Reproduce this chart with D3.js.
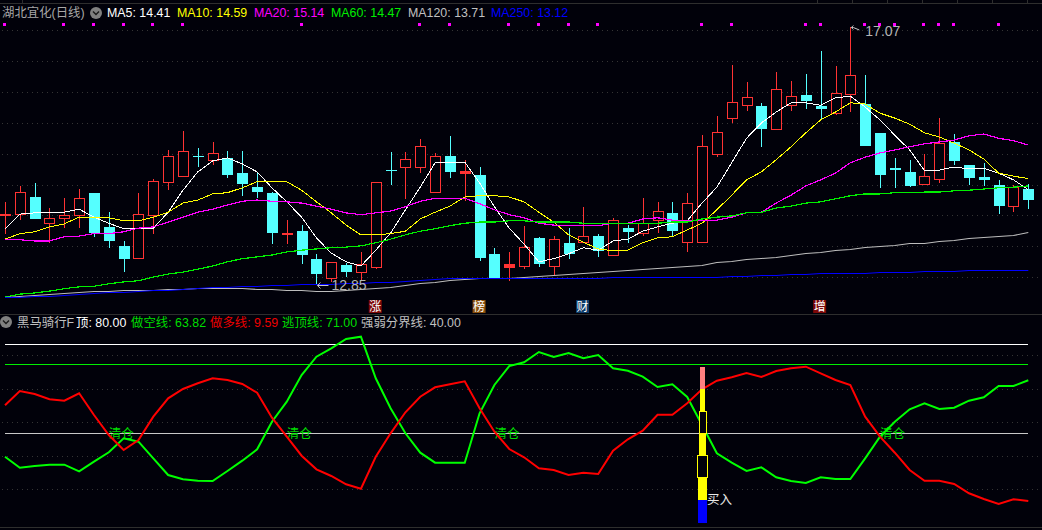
<!DOCTYPE html>
<html><head><meta charset="utf-8">
<style>html,body{margin:0;padding:0;background:#01010a;overflow:hidden}
svg{display:block}text{font-family:"Liberation Sans","Noto Sans CJK SC",sans-serif}</style>
<script src="https://cdn.jsdelivr.net/npm/d3@7/dist/d3.min.js"></script>
</head><body><svg id="c" width="1042" height="530"></svg>
<script>
const opens=[14.00,14.00,14.29,13.86,13.93,13.98,14.36,13.80,13.49,13.29,
13.98,14.52,14.63,14.96,14.88,14.93,14.68,14.45,14.36,13.67,
13.73,13.28,12.95,13.18,13.05,13.13,14.73,14.78,14.78,14.36,
14.96,14.67,14.65,13.36,13.14,13.16,13.62,13.16,13.54,13.55,
13.65,13.34,13.78,13.70,13.90,14.03,13.55,13.55,14.98,15.58,
15.78,15.78,15.39,15.79,15.96,15.78,15.65,15.97,15.81,15.34,
14.75,14.70,14.49,14.57,15.19,14.81,14.62,14.49,14.14,14.42];
const closes=[14.00,14.36,13.93,13.93,13.98,14.27,13.70,13.57,13.28,14.01,
14.54,14.96,15.03,14.96,15.00,14.65,14.50,14.37,13.70,13.70,
13.34,13.03,13.21,13.06,13.19,14.52,14.73,14.91,15.12,14.96,
14.70,14.70,13.29,12.97,13.18,13.47,13.19,13.59,13.36,13.64,
13.41,13.91,13.72,13.85,14.06,13.73,14.18,15.12,15.34,15.83,
15.91,15.40,16.04,15.93,15.86,15.73,15.99,16.28,15.12,14.65,
14.75,14.47,14.62,15.17,14.88,14.60,14.57,14.14,14.44,14.24];
const highs=[14.21,14.47,14.52,14.11,14.27,14.42,14.36,14.04,13.57,14.36,
14.58,15.06,15.37,15.09,15.19,15.04,15.04,14.68,14.37,13.91,
13.83,13.36,13.21,13.21,13.39,14.52,15.03,15.03,15.24,15.01,
15.29,14.90,14.78,13.46,13.39,13.82,13.64,13.65,13.78,14.13,
13.69,13.95,13.83,14.27,14.21,14.21,14.36,15.30,15.61,16.45,
16.17,15.83,16.33,16.19,16.30,16.68,16.43,17.07,16.28,15.34,
14.93,14.90,15.00,15.58,15.32,14.81,14.85,14.57,14.49,14.50];
const lows=[13.69,13.91,13.93,13.54,13.78,13.78,13.64,13.46,13.06,13.29,
13.69,14.40,14.63,14.78,14.81,14.60,14.31,14.27,13.52,13.52,
13.19,12.85,12.90,12.98,12.93,13.11,14.49,14.26,14.68,14.36,
14.60,14.22,13.24,12.97,12.92,13.11,13.14,13.01,13.28,13.55,
13.31,13.34,13.54,13.65,13.70,13.64,13.39,13.55,14.94,15.50,
15.70,15.11,15.39,15.70,15.73,15.57,15.63,15.68,15.12,14.44,
14.44,14.45,14.49,14.52,14.81,14.49,14.47,14.01,14.04,14.09];
const ma5=[13.77,14.01,14.03,14.04,14.04,14.09,13.96,13.86,13.77,13.77,
13.78,14.04,14.40,14.70,14.88,14.93,14.83,14.70,14.44,14.21,
13.96,13.62,13.37,13.23,13.16,13.42,13.70,14.08,14.45,14.85,
14.86,14.86,14.52,14.13,13.78,13.52,13.23,13.28,13.36,13.46,
13.42,13.57,13.60,13.73,13.80,13.86,13.90,14.19,14.45,14.85,
15.25,15.50,15.68,15.83,15.83,15.79,15.91,15.94,15.76,15.55,
15.30,15.06,14.72,14.73,14.78,14.75,14.76,14.68,14.57,14.41];
const ma10=[13.60,13.69,13.72,13.80,13.85,13.96,13.96,13.95,13.90,13.90,
13.96,14.04,14.19,14.24,14.34,14.36,14.44,14.54,14.55,14.54,
14.40,14.21,14.03,13.83,13.67,13.67,13.69,13.73,13.93,14.04,
14.14,14.29,14.31,14.31,14.29,14.21,14.04,13.88,13.67,13.55,
13.44,13.41,13.42,13.54,13.62,13.64,13.75,13.86,14.08,14.32,
14.57,14.70,14.90,15.11,15.34,15.55,15.68,15.83,15.81,15.66,
15.58,15.48,15.34,15.27,15.17,15.06,14.91,14.68,14.63,14.59];
const ma20=[13.59,13.59,13.57,13.57,13.64,13.65,13.69,13.69,13.72,13.78,
13.80,13.88,13.96,14.04,14.09,14.16,14.22,14.24,14.22,14.21,
14.19,14.14,14.09,14.03,14.00,14.03,14.06,14.13,14.22,14.27,
14.27,14.27,14.18,14.08,14.00,13.95,13.86,13.83,13.82,13.82,
13.82,13.86,13.86,13.93,13.95,13.91,13.90,13.90,13.91,13.96,
14.03,14.04,14.19,14.32,14.47,14.57,14.68,14.85,14.94,15.01,
15.06,15.11,15.16,15.19,15.22,15.29,15.32,15.25,15.21,15.14];
const ma60=[12.65,12.70,12.72,12.75,12.79,12.82,12.83,12.87,12.90,12.92,
12.98,13.03,13.06,13.11,13.16,13.23,13.28,13.31,13.34,13.39,
13.42,13.44,13.46,13.47,13.49,13.54,13.60,13.67,13.73,13.77,
13.82,13.86,13.88,13.88,13.90,13.90,13.88,13.88,13.88,13.86,
13.86,13.85,13.85,13.86,13.86,13.88,13.88,13.93,13.96,13.98,
14.03,14.04,14.11,14.14,14.19,14.21,14.26,14.31,14.34,14.34,
14.36,14.36,14.37,14.37,14.39,14.40,14.42,14.44,14.45,14.47];
const ma120=[12.65,12.67,12.69,12.70,12.72,12.74,12.75,12.75,12.77,12.77,
12.77,12.79,12.79,12.80,12.80,12.80,12.80,12.79,12.79,12.77,
12.77,12.75,12.75,12.77,12.79,12.80,12.82,12.85,12.88,12.90,
12.93,12.95,12.97,12.97,12.97,12.98,13.00,13.01,13.03,13.05,
13.06,13.08,13.10,13.11,13.13,13.14,13.16,13.18,13.23,13.24,
13.28,13.29,13.31,13.34,13.37,13.39,13.42,13.44,13.47,13.49,
13.50,13.54,13.54,13.57,13.59,13.62,13.64,13.65,13.67,13.71];
const ma250=[12.65,12.65,12.67,12.67,12.69,12.70,12.72,12.74,12.74,12.75,
12.77,12.77,12.79,12.80,12.82,12.82,12.83,12.83,12.85,12.85,
12.87,12.87,12.87,12.88,12.88,12.90,12.90,12.92,12.93,12.95,
12.97,12.97,12.97,12.97,12.97,12.97,12.97,12.97,12.97,12.97,
12.97,12.98,12.98,12.98,12.98,12.98,12.98,12.98,12.98,13.00,
13.00,13.01,13.01,13.03,13.03,13.05,13.05,13.05,13.05,13.06,
13.06,13.06,13.08,13.08,13.08,13.10,13.10,13.10,13.10,13.10];
const shortLine=[29.48,24.54,25.30,25.89,25.89,22.92,27.24,31.46,37.75,36.23,
28.76,21.26,19.33,18.70,18.56,23.06,27.69,32.81,45.21,54.20,
66.20,74.42,78.20,82.38,83.41,64.72,51.24,40.00,31.28,26.79,
26.79,26.79,48.99,61.71,70.24,71.91,76.54,74.29,76.09,73.71,
75.19,69.21,68.13,65.44,60.81,62.02,56.31,43.73,31.01,26.79,
23.06,24.72,20.23,18.56,17.66,20.23,19.46,19.46,28.76,38.47,
45.21,50.79,53.48,50.92,51.50,54.65,56.18,61.26,61.26,63.82];
const longLine=[52.58,59.01,57.66,55.28,54.65,57.98,48.22,39.24,32.50,36.99,
47.46,55.73,59.91,62.47,64.72,63.95,62.16,58.25,47.01,38.47,
29.93,23.82,20.81,17.08,15.10,29.48,40.00,49.44,56.45,60.67,
62.02,63.37,51.24,40.72,32.94,29.21,24.27,23.51,21.26,22.29,
21.71,32.18,37.30,41.17,48.36,48.36,53.48,59.77,63.64,65.17,
67.10,65.30,68.00,69.21,69.93,66.96,63.95,61.71,47.46,38.47,
31.28,23.51,18.70,18.70,17.22,13.04,10.47,8.23,10.34,9.59];
const signalBars=[0,4,6,8,10,12,20,28,30,34,36,38,40,47,49,54,55,58,59,60,62,63,64,67];
const clearBars=[7,19,33,59];
const badges=[["涨",25,"#7c0808"],["榜",32,"#8a4f0c"],["财",39,"#0c3a68"],["增",55,"#7c0808"]];
const buyBar=47;
const stackLevels=[0,10,20,30,40,50,60,70];
const priceTicks=[17.02,16.52,16.01,15.50,15.00,14.49,14.00,13.49,12.98];
const indexTicks=[75,60,45,30,15];
const header=[["MA5: 14.41","#ffffff",107],["MA10: 14.59","#ffff00",177],["MA20: 15.14","#ff00ff",254],["MA60: 14.47","#00ee00",331],["MA120: 13.71","#c0c0c0",408],["MA250: 13.12","#0000ff",491]];
const subHeader=[["顶: 80.00","#ffffff",76],["做空线: 63.82","#00dd00",131],["做多线: 9.59","#ee0000",210],["逃顶线: 71.00","#00dd00",282],["强弱分界线: 40.00","#c0c0c0",361]];

const svg=d3.select("#c");
const W=1042,H=530,RED="#ff3333",CYAN="#55ffff",BG="#01010a",FS=12.4;
const x=d3.scaleLinear().domain([0,69]).range([5,1028.3]);
const y=d3.scaleLinear().domain([17.07,12.85]).range([27,285]);
const yi=d3.scaleLinear().domain([80,40]).range([344.3,433.3]);
svg.append("rect").attr("width",W).attr("height",H).attr("fill",BG);

// frame
[3,314,527].forEach(v=>svg.append("line").attr("x1",0).attr("x2",W).attr("y1",v+.5).attr("y2",v+.5).attr("stroke","#2e2e2e").attr("stroke-width",1));
[22,817,852,887,922,957,992,1027].forEach(v=>svg.append("line").attr("x1",v+.5).attr("x2",v+.5).attr("y1",0).attr("y2",3).attr("stroke","#2e2e2e"));

// dotted grid
const dotted=(sc,ticks)=>svg.append("g").selectAll("line").data(ticks).join("line")
  .attr("x1",2).attr("x2",W).attr("y1",d=>Math.round(sc(d))+.5).attr("y2",d=>Math.round(sc(d))+.5)
  .attr("stroke","#343434").attr("stroke-dasharray","1 4");
dotted(y,priceTicks);dotted(yi,indexTicks);

// signal squares
svg.append("g").selectAll("rect").data(signalBars).join("rect")
  .attr("x",d=>Math.round(x(d))-2).attr("y",23).attr("width",3).attr("height",3).attr("fill","#ff00ff");

// candles
const idx=d3.range(opens.length);
const gc=svg.append("g").attr("shape-rendering","crispEdges");
const BW=10;
idx.forEach(i=>{
  const up=closes[i]>opens[i]||(closes[i]===opens[i]&&i===0);
  const col=up?RED:CYAN,cx=Math.round(x(i))+.5;
  const t=y(Math.max(opens[i],closes[i])),b=y(Math.min(opens[i],closes[i]));
  gc.append("line").attr("x1",cx).attr("x2",cx).attr("y1",y(highs[i])).attr("y2",y(lows[i])).attr("stroke",col).attr("stroke-width",1);
  if(b-t<3){
    gc.append("rect").attr("x",cx-5.5).attr("y",t-.5).attr("width",11).attr("height",Math.max(1.6,b-t+1)).attr("fill",col);
  }else if(up){
    gc.append("rect").attr("x",cx-5).attr("y",t).attr("width",BW).attr("height",b-t).attr("fill",BG).attr("stroke",col).attr("stroke-width",1);
  }else{
    gc.append("rect").attr("x",cx-5.5).attr("y",t).attr("width",11).attr("height",b-t).attr("fill",col);
  }
});

// moving averages
const line=(arr,sc)=>d3.line().x((d,i)=>x(i)).y(d=>sc(d))(arr);
const snap=v=>Math.round(y(v))+.5;
[[ma5,"#ffffff",1],[ma10,"#ffff00",1],[ma20,"#ff00ff",1.2],[ma60,"#00ee00",1.2]].forEach(([a,c,w])=>
  svg.append("path").attr("d",line(a,y)).attr("fill","none").attr("stroke",c).attr("stroke-width",w).attr("shape-rendering","crispEdges"));
[[ma120,"#bdbdbd"],[ma250,"#0000ff"]].forEach(([a,c])=>
  svg.append("path").attr("d",line(a,snap)).attr("fill","none").attr("stroke",c).attr("stroke-width",1.1));

// extreme labels
const grey="#b4b4b4";
const hi=d3.max(highs),lo=d3.min(lows),hiI=highs.indexOf(hi),loI=lows.indexOf(lo);
svg.append("path").attr("d",`M${x(hiI)+9},30 L${x(hiI)+3},27.5 L${x(hiI)+1},27.5 M${x(hiI)+1},27.5 l2,-2 M${x(hiI)+1},27.5 l2,2`).attr("fill","none").attr("stroke","#c8c8c8");
svg.append("text").attr("x",x(hiI)+15).attr("y",36).attr("font-size",14).attr("fill",grey).text(hi.toFixed(2));
svg.append("path").attr("d",`M${x(loI)+12},285.5 L${x(loI)+1},285.5 M${x(loI)+1},285.5 l3,-3 M${x(loI)+1},285.5 l3,3`).attr("fill","none").attr("stroke","#c8c8c8");
svg.append("text").attr("x",x(loI)+15).attr("y",290).attr("font-size",14).attr("fill",grey).text(lo.toFixed(2));

// badges
badges.forEach(([t,i,c])=>{
  const cx=x(i)+(t==="涨"?-.5:t==="榜"?-.5:t==="财"?-.8:-1);
  svg.append("rect").attr("x",cx-6.5).attr("y",300).attr("width",13).attr("height",13).attr("fill",c);
  svg.append("text").attr("x",cx).attr("y",311).attr("text-anchor","middle").attr("font-size",12).attr("fill","#ffffff").text(t);
});

// header
const chevron=(cx,cy)=>{
  svg.append("circle").attr("cx",cx).attr("cy",cy).attr("r",6).attr("fill","#808080");
  svg.append("path").attr("d",`M${cx-3},${cy-1.5} L${cx},${cy+1.5} L${cx+3},${cy-1.5}`).attr("fill","none").attr("stroke","#1a1a1a").attr("stroke-width",1.4);
};
svg.append("text").attr("x",2).attr("y",17).attr("font-size",FS).attr("fill","#a8a8a8").text("湖北宜化(日线)");
chevron(96,13);
header.forEach(([t,c,px])=>svg.append("text").attr("x",px).attr("y",17).attr("font-size",FS).attr("fill",c).text(t));
chevron(6,322);
svg.append("text").attr("x",17).attr("y",327).attr("font-size",FS).attr("fill","#c0c0c0").text("黑马骑行F");
subHeader.forEach(([t,c,px])=>svg.append("text").attr("x",px).attr("y",327).attr("font-size",FS).attr("fill",c).text(t));

// indicator reference lines
[[80,"#ffffff"],[71,"#00ee00"],[40,"#c8c8c8"]].forEach(([v,c])=>
  svg.append("line").attr("x1",x(0)).attr("x2",x(69)).attr("y1",yi(v)).attr("y2",yi(v)).attr("stroke",c).attr("stroke-width",1.2).attr("shape-rendering","crispEdges"));

// clear labels under the lines
clearBars.forEach(i=>svg.append("text").attr("x",x(i)).attr("y",438).attr("font-size",12.5).attr("fill","#00dd00").text("清仓"));

svg.append("path").attr("d",line(shortLine,yi)).attr("fill","none").attr("stroke","#00ff00").attr("stroke-width",2);
svg.append("path").attr("d",line(longLine,yi)).attr("fill","none").attr("stroke","#ff0000").attr("stroke-width",2);

// buy stack
const bx=Math.round(x(buyBar))+.5;
const stackStyle=[["#0000ff",9,0],["#ffff00",9,0],["none",9,1],["#ffff00",7,0],["none",6,1],["#ffff00",5,0],["#ff8080",5,0]];
const gs=svg.append("g").attr("shape-rendering","crispEdges");
stackStyle.forEach(([c,w,h],k)=>{
  const t=yi(stackLevels[k+1]),b=yi(stackLevels[k]);
  if(h) gs.append("rect").attr("x",bx-w/2-.5).attr("y",t).attr("width",w+1).attr("height",b-t).attr("fill",BG).attr("stroke","#ffff00").attr("stroke-width",1);
  else gs.append("rect").attr("x",bx-w/2).attr("y",t).attr("width",w).attr("height",b-t+(k===0?1:0)).attr("fill",c);
});
svg.append("text").attr("x",bx+4.5).attr("y",504).attr("font-size",12.5).attr("fill","#e8e8e8").text("买入");
</script></body></html>
